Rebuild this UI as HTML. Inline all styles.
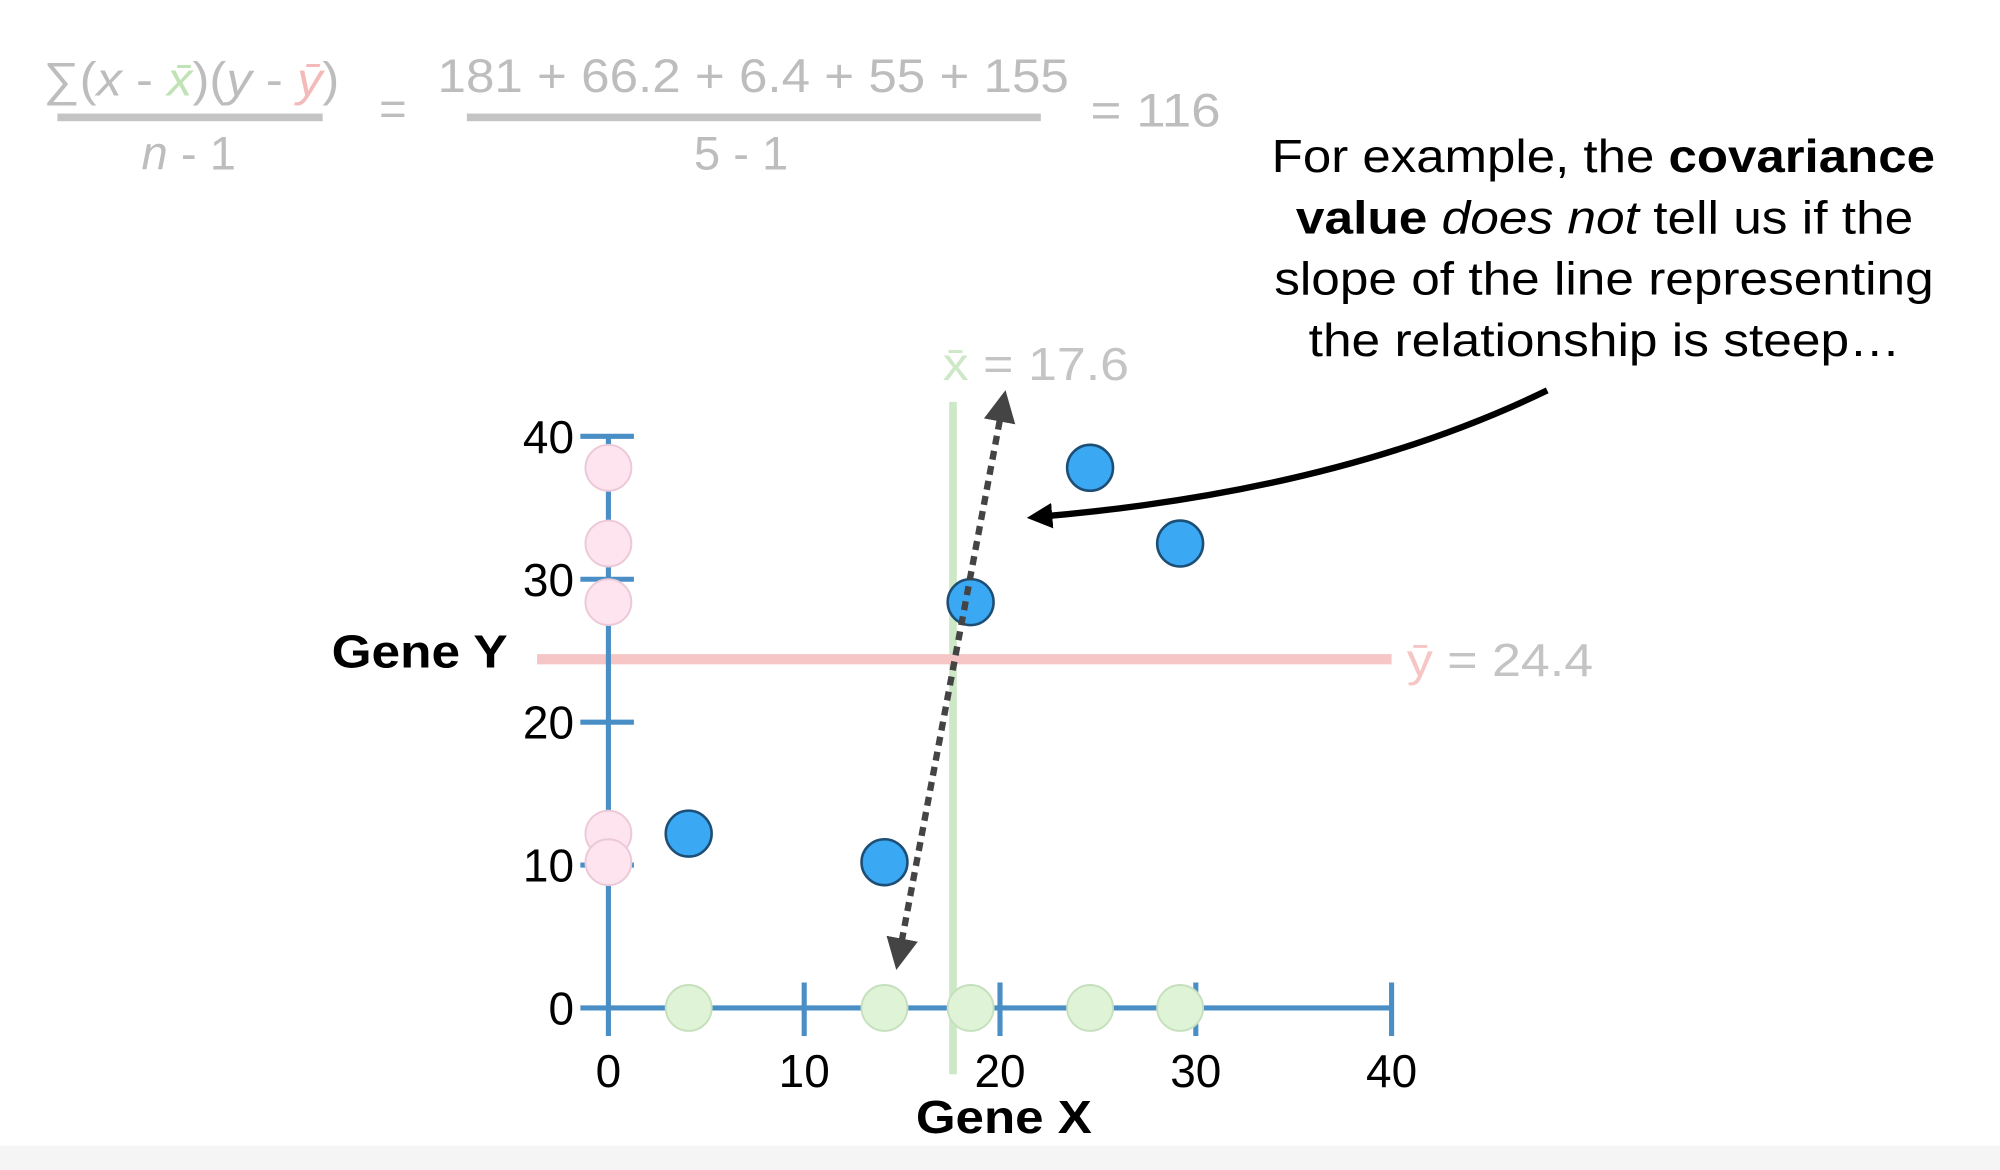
<!DOCTYPE html>
<html><head><meta charset="utf-8"><style>
html,body{margin:0;padding:0;background:#fff;}
svg{display:block;font-family:"Liberation Sans",sans-serif;}
</style></head><body>
<svg id="chart" width="2000" height="1170" viewBox="0 0 1568 917" preserveAspectRatio="none" xmlns="http://www.w3.org/2000/svg">
<defs>
<marker id="ah" viewBox="0 0 10 10" refX="5" refY="5" markerWidth="5" markerHeight="5" orient="auto-start-reverse"><path d="M0,0 L10,5 L0,10 z" fill="#444"/></marker>
<marker id="ah2" viewBox="0 0 10 10" refX="5" refY="5" markerWidth="4" markerHeight="4" orient="auto"><path d="M0,0 L10,5 L0,10 z" fill="#000"/></marker>
</defs>
<rect x="0" y="898" width="1568" height="19" fill="#f5f5f5"/>
<g fill="#bdbdbd" font-size="37">
<text x="34" y="75" textLength="232" lengthAdjust="spacingAndGlyphs">∑(<tspan font-style="italic">x</tspan> - <tspan fill="#bfe3b5" font-style="italic">x̄</tspan>)(<tspan font-style="italic">y</tspan> - <tspan fill="#f4baba" font-style="italic">ȳ</tspan>)</text>
<rect x="45" y="89" width="208" height="6" fill="#c4c4c4"/>
<text x="148" y="133" text-anchor="middle"><tspan font-style="italic">n</tspan> - 1</text>
<text x="308" y="98" text-anchor="middle">=</text>
<text x="343" y="72" textLength="495" lengthAdjust="spacingAndGlyphs">181 + 66.2 + 6.4 + 55 + 155</text>
<rect x="366" y="89" width="450" height="6" fill="#c4c4c4"/>
<text x="581" y="133" text-anchor="middle">5 - 1</text>
<text x="855" y="99" textLength="102" lengthAdjust="spacingAndGlyphs">= 116</text>
</g>
<g font-size="36" fill="#000">
<text x="997" y="135" textLength="520" lengthAdjust="spacingAndGlyphs">For example, the <tspan font-weight="bold">covariance</tspan></text>
<text x="1016" y="183" textLength="484" lengthAdjust="spacingAndGlyphs"><tspan font-weight="bold">value</tspan> <tspan font-style="italic">does not</tspan> tell us if the</text>
<text x="999" y="231" textLength="517" lengthAdjust="spacingAndGlyphs">slope of the line representing</text>
<text x="1026" y="279" textLength="464" lengthAdjust="spacingAndGlyphs">the relationship is steep…</text>
</g>
<g id="plot"></g>
</svg>
<script>
const xValues = [4.1, 14.1, 18.5, 24.6, 29.2];
const yValues = [12.2, 10.2, 28.4, 37.8, 32.5];
const xTicks = [0, 10, 20, 30, 40];
const yTicks = [0, 10, 20, 30, 40];
const xMean = [17.6];
const yMean = [24.4];

const NS = "http://www.w3.org/2000/svg";
const sx = v => 477 + v * 15.35;
const sy = v => 790 - v * 11.2;
const g = document.getElementById('plot');
function mk(tag, attrs, parent) {
  const e = document.createElementNS(NS, tag);
  for (const k in attrs) e.setAttribute(k, attrs[k]);
  (parent || g).appendChild(e);
  return e;
}
const axisColor = "#4a8ec6";
let e = mk('line', {x1: sx(xMean[0]), x2: sx(xMean[0]), y1: 315, y2: 842, stroke: "#cde8c6", "stroke-width": 6});


e = mk('line', {x1: 421, x2: sx(40), y1: sy(yMean[0]), y2: sy(yMean[0]), stroke: "#f6c6c6", "stroke-width": 8});


e = mk('text', {x: sx(xMean[0]) - 8, y: 298, "font-size": 36, fill: "#c4c4c4", textLength: 146, lengthAdjust: "spacingAndGlyphs"});
e.innerHTML = '<tspan fill="#cde8c6">x̄</tspan> = ' + xMean[0];


e = mk('text', {x: 1103, y: sy(yMean[0]) + 13, "font-size": 36, fill: "#c4c4c4", textLength: 146, lengthAdjust: "spacingAndGlyphs"});
e.innerHTML = '<tspan fill="#f6c6c6">ȳ</tspan> = ' + yMean[0];


e = mk('line', {x1: sx(0), x2: sx(0), y1: sy(40), y2: 812, stroke: axisColor, "stroke-width": 4});


e = mk('line', {x1: 455, x2: sx(40), y1: sy(0), y2: sy(0), stroke: axisColor, "stroke-width": 4});


yTicks.forEach(t => {
  if (t > 0) {
    const l = mk('line', {x1: 455, x2: 497, y1: sy(t), y2: sy(t), stroke: axisColor, "stroke-width": 4});
    
    
  }
  const tx = mk('text', {x: 450, y: sy(t) + 13, "font-size": 36, "text-anchor": "end", fill: "#000"});
  tx.textContent = t;
  
  
});
xTicks.forEach(t => {
  if (t > 0) {
    const l = mk('line', {x1: sx(t), x2: sx(t), y1: 770, y2: 812, stroke: axisColor, "stroke-width": 4});
    
    
  }
  const tx = mk('text', {x: sx(t), y: 852, "font-size": 36, "text-anchor": "middle", fill: "#000"});
  tx.textContent = t;
  
  
});
e = mk('text', {x: 718, y: 888, "font-size": 36, "font-weight": "bold", textLength: 138, lengthAdjust: "spacingAndGlyphs"});
e.textContent = 'Gene X';


e = mk('text', {x: 260, y: 523, "font-size": 36, "font-weight": "bold", textLength: 138, lengthAdjust: "spacingAndGlyphs"});
e.textContent = 'Gene Y';


yValues.forEach(v => {
  const c = mk('circle', {cx: sx(0), cy: sy(v), r: 18, fill: "#fde4ef", stroke: "#ecc9d8", "stroke-width": 1.5});
  
  
});
xValues.forEach(v => {
  const c = mk('circle', {cx: sx(v), cy: sy(0), r: 18, fill: "#dff3d7", stroke: "#c6e0bd", "stroke-width": 1.5});
  
  
});
xValues.forEach((v, i) => {
  const c = mk('circle', {cx: sx(v), cy: sy(yValues[i]), r: 18, fill: "#3aa8f2", stroke: "#1d4f76", "stroke-width": 2});
  
  
});
e = mk('line', {x1: 786, y1: 318, x2: 705, y2: 748, stroke: "#444", "stroke-width": 5, "stroke-dasharray": "7 5", "marker-start": "url(#ah)", "marker-end": "url(#ah)"});


e = mk('path', {d: "M1213,306 Q1050,385 815,405", fill: "none", stroke: "#000", "stroke-width": 5, "marker-end": "url(#ah2)"});


</script>
</body></html>
